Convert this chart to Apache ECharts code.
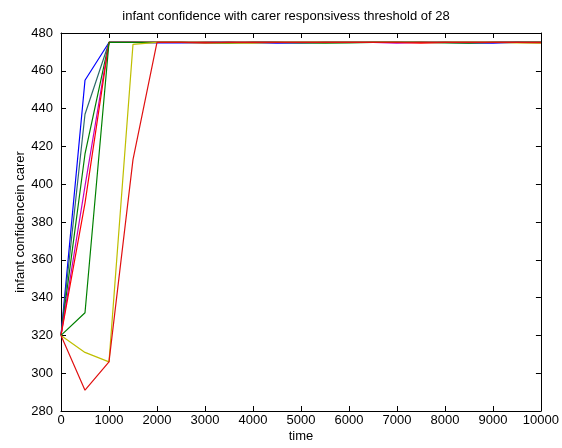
<!DOCTYPE html>
<html>
<head>
<meta charset="utf-8">
<script src="https://cdn.jsdelivr.net/npm/echarts@6/dist/echarts.min.js"></script>
<style>
html,body{margin:0;padding:0;background:#fff;}
#c{width:562px;height:448px;}
</style>
</head>
<body>
<div id="c"></div>
<script>
// time steps (x values)
const times = [0,500,1000,1500,2000,2500,3000,3500,4000,4500,5000,5500,6000,6500,7000,7500,8000,8500,9000,9500,10000];
// series values
const blueVals    = [320,455,475,475,474.8,474.7,475,475,474.7,474.6,474.7,475,475,475,475,475,475,474.7,474.6,475,475];
const tealVals    = [320,437,475,475,475,475,475,475,475,475,475,475,475,475,475,475,475,475,475,475,475];
const greenVals   = [320,416,475,475,475,475,474.7,474.6,475,475,474.7,474.6,474.7,475,475,475,474.7,474.6,475,475,475];
const magentaVals = [320,399,475,475,475,475,475,475,475,475,475,475,475,475,474.6,475,475,475,475,475,474.6];
const red1Vals    = [320,390,475,475,475,475,474.7,475,475,475,475,475,475,475,475,474.6,475,475,475,475,475];
const green2Vals  = [320,332,475,475,475,475,475,475,475,475,475,475,475,475,475,475,475,475,475,475,475];
const yellowVals  = [320,311,306,474,475,475,475,474.7,474.6,475,475,475,475,475,475,475,475,475,475,474.7,474.6];
const red2Vals    = [320,291,306,413,475,475,475,475,475,475,475,475,475,475,475,475,475,475,475,475,475];

const seriesDefs = [
  {name:'s1', vals: blueVals,    color:'#0000ff'},
  {name:'s2', vals: tealVals,    color:'#2e6b6b'},
  {name:'s3', vals: greenVals,   color:'#008000'},
  {name:'s4', vals: magentaVals, color:'#bf00bf'},
  {name:'s5', vals: red1Vals,    color:'#ff0000'},
  {name:'s6', vals: green2Vals,  color:'#008000'},
  {name:'s7', vals: yellowVals,  color:'#bfbf00'},
  {name:'s8', vals: red2Vals,    color:'#e01010'}
];

const font = 'Liberation Sans, Arial, Helvetica, sans-serif';
const fs = 13;
const chart = echarts.init(document.getElementById('c'), null, {renderer:'canvas'});

const tickCommon = {show:true, inside:true, length:5, lineStyle:{color:'#000', width:1}};
const lineCommon = {show:true, onZero:false, lineStyle:{color:'#000', width:1}};

chart.setOption({
  animation:false,
  backgroundColor:'#fff',
  title:{
    text:'infant confidence with carer responsivess threshold of 28',
    left:281, top:5, textAlign:'center',
    textStyle:{fontFamily:font, fontSize:fs, fontWeight:'normal', color:'#000'}
  },
  grid:{left:61, right:19, top:33, bottom:35, containLabel:false},
  xAxis:[
    {type:'value', min:0, max:10000, interval:1000, position:'bottom',
     name:'time', nameLocation:'middle', nameGap:19, nameMoveOverlap:false,
     nameTextStyle:{fontFamily:font, fontSize:fs, color:'#000'},
     axisLine:lineCommon, axisTick:tickCommon,
     axisLabel:{fontFamily:font, fontSize:fs, color:'#000', margin:3, formatter:v => String(v)},
     splitLine:{show:false}},
    {type:'value', min:0, max:10000, interval:1000, position:'top',
     axisLine:lineCommon, axisTick:tickCommon, axisLabel:{show:false}, splitLine:{show:false}}
  ],
  yAxis:[
    {type:'value', min:280, max:480, interval:20, position:'left',
     name:'infant confidencein carer', nameLocation:'middle', nameGap:34, nameRotate:90, nameMoveOverlap:false,
     nameTextStyle:{fontFamily:font, fontSize:fs, color:'#000'},
     axisLine:lineCommon, axisTick:tickCommon,
     axisLabel:{fontFamily:font, fontSize:fs, color:'#000', margin:8, formatter:v => String(v)},
     splitLine:{show:false}},
    {type:'value', min:280, max:480, interval:20, position:'right',
     axisLine:lineCommon, axisTick:tickCommon, axisLabel:{show:false}, splitLine:{show:false}}
  ],
  series: seriesDefs.map(d => ({
    name:d.name, type:'line', xAxisIndex:0, yAxisIndex:0,
    data: times.map((t,i) => [t, d.vals[i]]),
    showSymbol:false, symbol:'none',
    lineStyle:{color:d.color, width:1.2},
    itemStyle:{color:d.color},
    emphasis:{disabled:true}
  }))
});
</script>
</body>
</html>
